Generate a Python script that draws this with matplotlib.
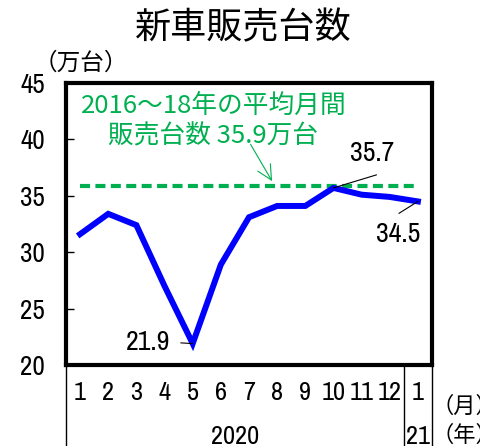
import matplotlib
matplotlib.use("Agg")
import matplotlib.pyplot as plt

# ---- data ----
months = ["1", "2", "3", "4", "5", "6", "7", "8", "9", "10", "11", "12", "1"]
sales = [31.6, 33.4, 32.4, 27.0, 21.9, 28.9, 33.1, 34.1, 34.1, 35.7, 35.1, 34.9, 34.5]
avg_2016_18 = 35.9
years = ["2020", "21"]
yticks = [20, 25, 30, 35, 40, 45]

title = "新車販売台数"
unit_label = "（万台）"
avg_text1 = "2016～18年の平均月間"
avg_text2 = "販売台数 35.9万台"

NUM_FONT = ["Liberation Sans Narrow", "Archivo Narrow", "Noto Sans CJK JP", "DejaVu Sans"]
JP_FONT = ["Noto Sans CJK JP", "DejaVu Sans"]
plt.rcParams["font.family"] = NUM_FONT

BLUE = "#0000FF"
GREEN = "#00B050"

fig = plt.figure(figsize=(4.8, 4.46), dpi=100)
ax = fig.add_axes([0.1375, 0.1816, 0.7625, 0.6323])

x = list(range(1, len(sales) + 1))
ax.plot(x, [avg_2016_18] * len(x), color=GREEN, lw=3, ls=(0, (2.4, 1.3)),
        dash_capstyle="butt", zorder=2)
ax.plot(x, sales, color=BLUE, lw=4.3, solid_joinstyle="miter", zorder=3)

ax.set_xlim(0.5, len(x) + 0.5)
ax.set_ylim(20, 45)
ax.set_yticks(yticks)
ax.set_yticklabels([str(t) for t in yticks], fontsize=19.5)
ax.tick_params(axis="y", direction="in", length=6, width=1, pad=15, left=True, right=False)
ax.set_xticks([])
for s in ax.spines.values():
    s.set_linewidth(3)
    s.set_color("black")

# month labels / year labels (category axis below the frame)
for xi, m in zip(x, months):
    ax.text(xi, -0.099, m, transform=ax.get_xaxis_transform(), ha="center",
            va="center", fontsize=19)
ax.text(6.5, -0.255, years[0], transform=ax.get_xaxis_transform(), ha="center",
        va="center", fontsize=19)
ax.text(13, -0.255, years[1], transform=ax.get_xaxis_transform(), ha="center",
        va="center", fontsize=19)
for xv in [0.5, 12.5, 13.5]:
    ax.plot([xv, xv], [0, -0.3], transform=ax.get_xaxis_transform(), color="black",
            lw=1, clip_on=False, zorder=1)
ax.text(0.998, -0.148, "（月）", transform=ax.transAxes, ha="left", va="center",
        fontsize=16, family=JP_FONT)
ax.text(0.998, -0.250, "（年）", transform=ax.transAxes, ha="left", va="center",
        fontsize=16, family=JP_FONT)

# unit label
ax.text(-0.088, 1.07, unit_label, transform=ax.transAxes, ha="left", va="center",
        fontsize=17, family=JP_FONT)

# title
fig.text(0.506, 0.937, title, ha="center", va="center", fontsize=26, family=JP_FONT)

# average annotation
ax.text(0.404, 0.918, avg_text1, transform=ax.transAxes, ha="center", va="center",
        fontsize=18.5, color=GREEN, family=JP_FONT)
ax.text(0.402, 0.809, avg_text2, transform=ax.transAxes, ha="center", va="center",
        fontsize=18.5, color=GREEN, family=JP_FONT)
ax.annotate("", xy=(7.82, 36.3), xytext=(-15.5, 26.5), textcoords="offset points",
            arrowprops=dict(arrowstyle="->,head_length=0.7,head_width=0.35",
                            color=GREEN, lw=0.8, mutation_scale=15,
                            shrinkA=0, shrinkB=0))

# data labels
def label(idx, line_off, text_off, ha):
    ax.annotate("", xy=(x[idx], sales[idx]), xytext=line_off, textcoords="offset points",
                arrowprops=dict(arrowstyle="-", color="black", lw=0.8,
                                shrinkA=0, shrinkB=0))
    ax.annotate(f"{sales[idx]:.1f}", xy=(x[idx], sales[idx]), xytext=text_off,
                textcoords="offset points", ha=ha, va="center", fontsize=20)

label(9, (31, 9.4), (28, 24.5), "center")
label(12, (-13.7, -8.6), (-14.4, -23.8), "center")
label(4, (-8.6, 0.5), (-16.5, 0.5), "right")

fig.savefig("out.png", dpi=100)
